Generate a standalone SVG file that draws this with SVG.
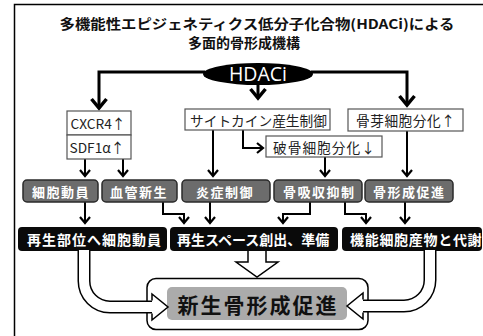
<svg xmlns="http://www.w3.org/2000/svg" width="483" height="336" viewBox="0 0 483 336">
<defs>
<style>
.t{font-family:"Noto Sans CJK JP","Noto Sans",sans-serif;}
.title{font-size:13.5px;font-weight:bold;fill:#111;text-anchor:middle;}
.wb{fill:#fff;stroke:#555;stroke-width:1.2;}
.wt{font-size:13.7px;fill:#222;dominant-baseline:central;}
.gb{fill:#6c6c6c;stroke:#2a2a2a;stroke-width:1.5;}
.gt{font-size:13px;font-weight:bold;fill:#fff;letter-spacing:1.5px;dominant-baseline:central;}
.bb{fill:#0a0a0a;}
.bt{font-size:14px;font-weight:bold;fill:#fff;dominant-baseline:central;}
.big{fill:none;stroke:#000;stroke-width:3;marker-end:url(#ab);}
.sm{fill:none;stroke:#000;stroke-width:2;marker-end:url(#as);}
.hol{fill:#fff;stroke:#000;stroke-width:1.5;stroke-linejoin:miter;}
</style>
<marker id="ab" markerUnits="userSpaceOnUse" markerWidth="1" markerHeight="1" refX="0" refY="0" orient="auto" overflow="visible">
<path d="M-9,-7.5 L0,0 L-9,7.5" fill="none" stroke="#000" stroke-width="3.5"/>
</marker>
<marker id="as" markerUnits="userSpaceOnUse" markerWidth="1" markerHeight="1" refX="0" refY="0" orient="auto" overflow="visible">
<path d="M-6,-5 L0,0 L-6,5" fill="none" stroke="#000" stroke-width="2.2"/>
</marker>
</defs>

<rect x="14.5" y="4.5" width="500" height="400" fill="#fff" stroke="#000" stroke-width="1.5"/>

<g id="title" class="t">
<text class="title" x="257" y="29" textLength="395" lengthAdjust="spacingAndGlyphs">多機能性エピジェネティクス低分子化合物(HDACi)による</text>
<text class="title" x="244" y="48" textLength="112" lengthAdjust="spacingAndGlyphs">多面的骨形成機構</text>
</g>

<g id="connectors">
<path class="big" d="M205,72 H99 V108"/>
<path class="big" d="M311,72 H407 V105"/>
<path class="big" d="M258,84 V98"/>
<path class="sm" d="M243,130 V148 H263"/>
<path class="sm" d="M213,130 V176"/>
<path class="sm" d="M85,159 V176"/>
<path class="sm" d="M123,159 V176"/>
<path class="sm" d="M325,157 V176"/>
<path class="sm" d="M407,131 V176"/>
<path class="sm" d="M85,202 V223"/>
<path class="sm" d="M163,202 V214 H184 V223"/>
<path class="sm" d="M210,202 V223"/>
<path class="sm" d="M310,202 V214 H283 V223"/>
<path class="sm" d="M345,202 V214 H366 V223"/>
<path class="sm" d="M405,202 V223"/>
</g>

<g id="hdaci">
<ellipse cx="258" cy="74" rx="55" ry="11" fill="#000"/>
<text x="258" y="81" font-family="'Open Sans','Liberation Sans',sans-serif" font-size="19.5" fill="#fff" text-anchor="middle">HDACi</text>
</g>

<g id="cxcr4" class="t">
<rect class="wb" x="67" y="111" width="64" height="24"/>
<text class="wt" x="98" y="123" text-anchor="middle" font-size="13">CXCR4↑</text>
</g>
<g id="sdf1" class="t">
<rect class="wb" x="67" y="135" width="64" height="24"/>
<text class="wt" x="97" y="147" text-anchor="middle" font-size="13">SDF1α↑</text>
</g>

<g id="cytokine" class="t">
<rect class="wb" x="185" y="109" width="145" height="21"/>
<text class="wt" x="190" y="119.5">サイトカイン産生制御</text>
</g>
<g id="osteoblast" class="t">
<rect class="wb" x="348" y="109" width="115" height="22"/>
<text class="wt" x="356" y="120" font-size="14" letter-spacing="0.5">骨芽細胞分化↑</text>
</g>
<g id="osteoclast" class="t">
<rect class="wb" x="266" y="136" width="116" height="21"/>
<text class="wt" x="273" y="146.5" font-size="14" letter-spacing="1">破骨細胞分化↓</text>
</g>

<g id="g1" class="t"><rect class="gb" x="23" y="180" width="75" height="22" rx="4"/><text class="gt" x="32" y="191">細胞動員</text></g>
<g id="g2" class="t"><rect class="gb" x="102" y="180" width="75" height="22" rx="4"/><text class="gt" x="110" y="191">血管新生</text></g>
<g id="g3" class="t"><rect class="gb" x="182" y="180" width="88" height="22" rx="4"/><text class="gt" x="196" y="191">炎症制御</text></g>
<g id="g4" class="t"><rect class="gb" x="274" y="180" width="88" height="22" rx="4"/><text class="gt" x="283" y="191">骨吸収抑制</text></g>
<g id="g5" class="t"><rect class="gb" x="365" y="180" width="88" height="22" rx="4"/><text class="gt" x="373" y="191">骨形成促進</text></g>

<g id="b1" class="t"><rect class="bb" x="18" y="227" width="149" height="24" rx="4"/><text class="bt" x="27" y="239" letter-spacing="1">再生部位へ細胞動員</text></g>
<g id="b2" class="t"><rect class="bb" x="170" y="227" width="168" height="24" rx="4"/><text class="bt" x="177" y="239">再生スペース創出、準備</text></g>
<g id="b3" class="t"><rect class="bb" x="342" y="227" width="140" height="24" rx="4"/><text class="bt" x="350" y="239" letter-spacing="0.7">機能細胞産物と代謝</text></g>

<g id="result" class="t">
<rect x="147" y="278.5" width="221" height="51" rx="9" fill="#fff" stroke="#000" stroke-width="1.5"/>
<rect x="167" y="287" width="180" height="33" rx="5" fill="#ababab"/>
<text x="258" y="304" font-size="21" font-weight="bold" fill="#111" text-anchor="middle" letter-spacing="2" dominant-baseline="central">新生骨形成促進</text>
</g>

<g id="hollow-arrows">
<path d="M84,251 V281 A26,26 0 0 0 110,307 H154" fill="none" stroke="#000" stroke-width="13"/>
<path d="M84,250 V281 A26,26 0 0 0 110,307 H155" fill="none" stroke="#fff" stroke-width="10"/>
<path class="hol" d="M152,300.5 V294 L168,307 L152,320 V313.5"/>
<path d="M430,251 V280 A26,26 0 0 1 404,306 H361" fill="none" stroke="#000" stroke-width="13"/>
<path d="M430,250 V280 A26,26 0 0 1 404,306 H360" fill="none" stroke="#fff" stroke-width="10"/>
<path class="hol" d="M363,299.5 V293 L347,306 L363,319 V312.5"/>
<path class="hol" d="M248,251 V262 H236 L257,277 L278,262 H266 V251"/>
</g>
</svg>
